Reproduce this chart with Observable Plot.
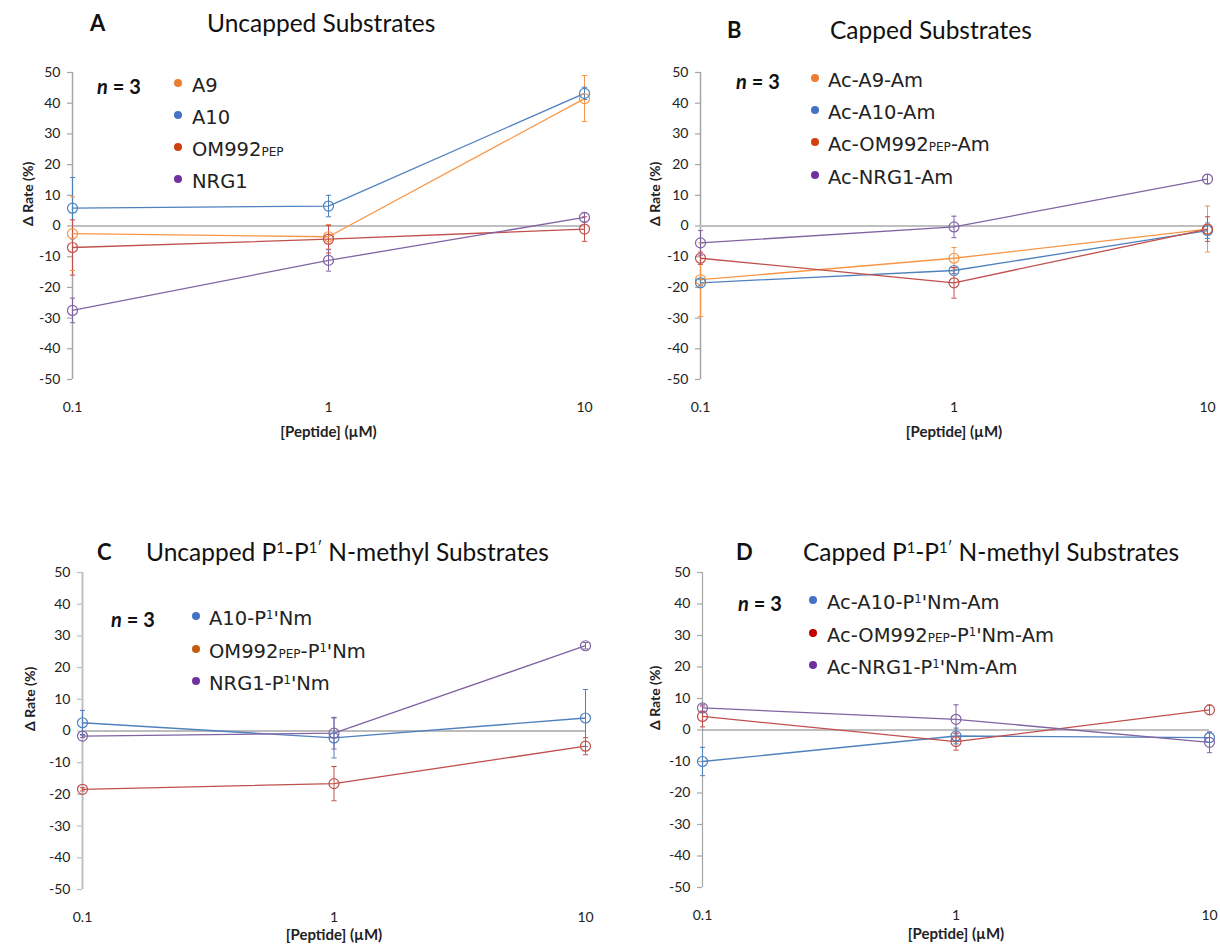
<!DOCTYPE html>
<html>
<head>
<meta charset="utf-8">
<script src="https://cdn.jsdelivr.net/npm/d3@7"></script>
<script src="https://cdn.jsdelivr.net/npm/@observablehq/plot@0.6"></script>
<style>
  html, body { margin: 0; padding: 0; background: #fff; }
  #page { position: relative; width: 1220px; height: 949px; overflow: hidden; background: #fff; }
  .abs { position: absolute; white-space: nowrap; transform: translateY(-50%); line-height: 1; color: #111; }
  .letter { font-family: Lato, "Liberation Sans", sans-serif; font-weight: bold; font-size: 22px; }
  .title { font-family: Lato, "Liberation Sans", sans-serif; font-size: 24.5px; }
  .nlab { font-family: Lato, "Liberation Sans", sans-serif; font-weight: bold; font-size: 20px; }
  .leg { font-family: "DejaVu Sans", "Open Sans", sans-serif; font-size: 19.5px; color: #222; }
  .dot { position: absolute; width: 8px; height: 8px; border-radius: 50%; transform: translate(-50%, -50%); }
  .small { font-size: 0.62em; }
  sup { font-size: 0.6em; vertical-align: 0.55em; line-height: 0; }
  svg { position: absolute; }
</style>
</head>
<body>
<div id="page"></div>
<script>
// ---------- shared axes ----------
const concentrations = [0.1, 1, 10];
const xTickLabels = ["0.1", "1", "10"];
const yTicks = [-50, -40, -30, -20, -10, 0, 10, 20, 30, 40, 50];
const xTitle = "[Peptide] (µM)";
const yTitle = "Δ Rate (%)";
const nLabel = "n = 3";

// ---------- Panel A: Uncapped Substrates ----------
const seriesA = ["A9", "A10", "OM992PEP", "NRG1"];
const a_A9 = [-2.5, -3.5, 41.5];     const a_A9_err = [12, 4, 7.5];
const a_A10 = [5.8, 6.5, 43.2];      const a_A10_err = [10, 3.5, 2];
const a_OM992 = [-7.0, -4.3, -1.0];  const a_OM992_err = [9, 4.5, 4];
const a_NRG1 = [-27.5, -11.2, 2.8];  const a_NRG1_err = [4, 3.5, 1.5];

// ---------- Panel B: Capped Substrates ----------
const seriesB = ["Ac-A9-Am", "Ac-A10-Am", "Ac-OM992PEP-Am", "Ac-NRG1-Am"];
const b_A9 = [-17.5, -10.5, -1.0];   const b_A9_err = [12, 3.5, 7.5];
const b_A10 = [-18.5, -14.5, -1.5];  const b_A10_err = [1, 1, 2.5];
const b_OM992 = [-10.5, -18.5, -1.0]; const b_OM992_err = [2, 5, 4];
const b_NRG1 = [-5.5, -0.3, 15.3];   const b_NRG1_err = [4, 3.5, 1.5];

// ---------- Panel C: Uncapped P1-P1' N-methyl Substrates ----------
const seriesC = ["A10-P1'Nm", "OM992PEP-P1'Nm", "NRG1-P1'Nm"];
const c_A10 = [2.6, -2.2, 4.1];      const c_A10_err = [3.9, 6.3, 9];
const c_OM992 = [-18.4, -16.6, -4.8]; const c_OM992_err = [0.5, 5.4, 2.7];
const c_NRG1 = [-1.6, -0.7, 26.9];   const c_NRG1_err = [0.5, 5, 1];

// ---------- Panel D: Capped P1-P1' N-methyl Substrates ----------
const seriesD = ["Ac-A10-P1'Nm-Am", "Ac-OM992PEP-P1'Nm-Am", "Ac-NRG1-P1'Nm-Am"];
const d_A10 = [-10.0, -1.9, -2.4];   const d_A10_err = [4.5, 2.5, 1.5];
const d_OM992 = [4.3, -3.7, 6.4];    const d_OM992_err = [3.3, 2.7, 1.5];
const d_NRG1 = [7.0, 3.4, -3.9];     const d_NRG1_err = [1, 4.6, 3.3];

// ---------- colours ----------
const ORANGE = "#F79646", BLUE = "#4F81BD", RED = "#C0504D", PURPLE = "#8064A2";

const panels = [
  {
    letter: "A", title: "Uncapped Substrates",
    frame: {l: 72, t: 72, r: 584, b: 379},
    letterPos: [90, 23], titlePos: [207, 23],
    names: seriesA,
    values: [a_A9, a_A10, a_OM992, a_NRG1],
    errors: [a_A9_err, a_A10_err, a_OM992_err, a_NRG1_err],
    lineColors: [ORANGE, BLUE, RED, PURPLE],
    legendColors: ["#ED7D31", "#4472C4", "#D0400C", "#7030A0"],
    legend: {nX: 97, dotX: 178, textX: 192, rows: [86, 118, 150, 182]},
    yTitleDx: -44, xTitleDy: 57, zero: {stroke: "#BFBFBF", width: 2}, axis: {stroke: "#A6A6A6", width: 1.5}
  },
  {
    letter: "B", title: "Capped Substrates",
    frame: {l: 700, t: 72, r: 1207, b: 379},
    letterPos: [727, 30], titlePos: [830, 30],
    names: seriesB,
    values: [b_A9, b_A10, b_OM992, b_NRG1],
    errors: [b_A9_err, b_A10_err, b_OM992_err, b_NRG1_err],
    lineColors: [ORANGE, BLUE, RED, PURPLE],
    legendColors: ["#ED7D31", "#4472C4", "#D0400C", "#7030A0"],
    legend: {nX: 736, dotX: 815, textX: 828, rows: [81, 113, 145, 178]},
    yTitleDx: -45, xTitleDy: 57, zero: {stroke: "#BFBFBF", width: 2}, axis: {stroke: "#A6A6A6", width: 1.5}
  },
  {
    letter: "C", title: "Uncapped P<sup>1</sup>-P<sup>1′</sup> N-methyl Substrates",
    frame: {l: 82, t: 572, r: 585, b: 889},
    letterPos: [97, 552], titlePos: [146, 552],
    names: seriesC,
    values: [c_A10, c_OM992, c_NRG1],
    errors: [c_A10_err, c_OM992_err, c_NRG1_err],
    lineColors: [BLUE, RED, PURPLE],
    legendColors: ["#4472C4", "#C55A11", "#7030A0"],
    legend: {nX: 111, dotX: 196, textX: 209, rows: [619, 652, 684]},
    yTitleDx: -52, xTitleDy: 50, zero: {stroke: "#A6A6A6", width: 1.5}, axis: {stroke: "#BFBFBF", width: 2}
  },
  {
    letter: "D", title: "Capped P<sup>1</sup>-P<sup>1′</sup> N-methyl Substrates",
    frame: {l: 702, t: 572, r: 1209, b: 887},
    letterPos: [736, 552], titlePos: [803, 552],
    names: seriesD,
    values: [d_A10, d_OM992, d_NRG1],
    errors: [d_A10_err, d_OM992_err, d_NRG1_err],
    lineColors: [BLUE, RED, PURPLE],
    legendColors: ["#4472C4", "#C00000", "#7030A0"],
    legend: {nX: 738, dotX: 813, textX: 827, rows: [603, 636, 668]},
    yTitleDx: -47, xTitleDy: 51, zero: {stroke: "#808080", width: 1}, axis: {stroke: "#A6A6A6", width: 1.2}
  }
];

// horizontal cap symbol for error bars
const capSymbol = {
  draw(context, size) {
    const w = Math.sqrt(size / Math.PI);
    context.moveTo(-w, 0);
    context.lineTo(w, 0);
  }
};

function fmtName(name) {
  return name.replace("PEP", '<span class="small">PEP</span>').replace("P1'", "P<sup>1</sup>'");
}

const page = document.getElementById("page");
const ML = 60, MR = 20, MT = 20, MB = 70;

for (const p of panels) {
  const rows = [];
  p.names.forEach((name, si) => {
    concentrations.forEach((x, i) => {
      rows.push({series: name, x, y: p.values[si][i], e: p.errors[si][i]});
    });
  });
  const fw = p.frame.r - p.frame.l, fh = p.frame.b - p.frame.t;
  const colorOpt = {domain: p.names, range: p.lineColors};

  const svg = Plot.plot({
    width: fw + ML + MR,
    height: fh + MT + MB,
    marginLeft: ML, marginRight: MR, marginTop: MT, marginBottom: MB,
    x: {type: "log", domain: [0.1, 10]},
    y: {domain: [-50, 50]},
    color: colorOpt,
    style: {fontFamily: "Lato, 'Liberation Sans', sans-serif", fontSize: "14px", color: "#222", background: "transparent", overflow: "visible"},
    marks: [
      Plot.ruleX([0.1], {y1: -50, y2: 50, stroke: p.axis.stroke, strokeWidth: p.axis.width}),
      Plot.axisY({ticks: yTicks, tickSize: 5, tickPadding: 7, stroke: p.axis.stroke, strokeWidth: 1.2, fill: "#222",
                  tickFormat: d => `${d}`, label: null, fontSize: 14}),
      Plot.axisX({ticks: concentrations, tickSize: 0, tickPadding: 23, fill: "#222",
                  tickFormat: d => xTickLabels[concentrations.indexOf(d)], label: null, fontSize: 14}),
      Plot.ruleY([0], {x1: 0.1, x2: 10, stroke: p.zero.stroke, strokeWidth: p.zero.width}),
      Plot.ruleX(rows, {x: "x", y1: d => d.y - d.e, y2: d => d.y + d.e, stroke: "series", strokeWidth: 1}),
      Plot.dot(rows, {x: "x", y: d => d.y - d.e, symbol: capSymbol, r: 2.6, fill: "none", stroke: "series", strokeWidth: 1}),
      Plot.dot(rows, {x: "x", y: d => d.y + d.e, symbol: capSymbol, r: 2.6, fill: "none", stroke: "series", strokeWidth: 1}),
      Plot.line(rows, {x: "x", y: "y", z: "series", stroke: "series", strokeWidth: 1.3}),
      Plot.dot(rows, {x: "x", y: "y", r: 5, fill: "none", stroke: "series", strokeWidth: 1.2}),
      Plot.text([yTitle], {frameAnchor: "left", rotate: -90, dx: p.yTitleDx, fontWeight: "bold", fontSize: 14, fill: "#222"}),
      Plot.text([xTitle], {frameAnchor: "bottom", dy: p.xTitleDy, fontWeight: "bold", fontSize: 15, fill: "#222"})
    ]
  });
  svg.style.left = (p.frame.l - ML) + "px";
  svg.style.top = (p.frame.t - MT) + "px";
  page.appendChild(svg);

  // panel letter and title
  const letter = document.createElement("div");
  letter.className = "abs letter";
  letter.style.left = p.letterPos[0] + "px"; letter.style.top = p.letterPos[1] + "px";
  letter.textContent = p.letter;
  page.appendChild(letter);
  const title = document.createElement("div");
  title.className = "abs title";
  title.style.left = p.titlePos[0] + "px"; title.style.top = p.titlePos[1] + "px";
  title.innerHTML = p.title;
  page.appendChild(title);

  // n = 3
  const n = document.createElement("div");
  n.className = "abs nlab";
  n.style.left = p.legend.nX + "px"; n.style.top = p.legend.rows[0] + "px";
  n.innerHTML = "<i>n</i>" + nLabel.slice(1);
  page.appendChild(n);

  // legend
  p.names.forEach((name, i) => {
    const dot = document.createElement("div");
    dot.className = "dot";
    dot.style.left = p.legend.dotX + "px";
    dot.style.top = (p.legend.rows[i] - 3) + "px";
    dot.style.background = p.legendColors[i];
    page.appendChild(dot);
    const t = document.createElement("div");
    t.className = "abs leg";
    t.style.left = p.legend.textX + "px";
    t.style.top = p.legend.rows[i] + "px";
    t.innerHTML = fmtName(name);
    page.appendChild(t);
  });
}
</script>
</body>
</html>
